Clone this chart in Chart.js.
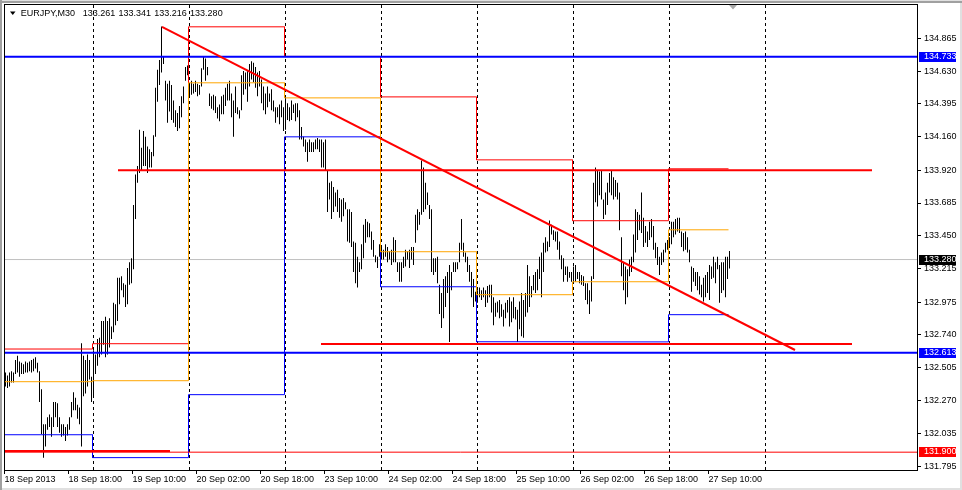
<!DOCTYPE html>
<html>
<head>
<meta charset="utf-8">
<title>EURJPY,M30</title>
<script src="https://cdn.jsdelivr.net/npm/chart.js@4.4.1/dist/chart.umd.min.js"></script>
<style>
  html, body { margin: 0; padding: 0; background: #fff; }
  canvas { display: block; }
</style>
</head>
<body>
<canvas id="chart" width="962" height="490"></canvas>
<script>
(function (global) {
  'use strict';

  // ---- data: one bar per 30 minutes, index 0 = 18 Sep 02:00 ----
  var BAR_HIGH = [
    // 18 Sep
    132.47, 132.45, 132.47, 132.48, 132.47, 132.56, 132.59, 132.55, 132.54, 132.53,
    132.55, 132.54, 132.55, 132.56, 132.57, 132.58, 132.54, 132.48, 132.35, 132.10,
    132.10, 132.15, 132.17, 132.15, 132.26, 132.26, 132.25, 132.15, 132.10, 132.10,
    132.08, 132.10, 132.15, 132.26, 132.33, 132.29, 132.24, 132.22, 132.68, 132.59,
    132.56, 132.60, 132.56, 132.44,
    // 19 Sep
    132.63, 132.60, 132.71, 132.72, 132.84, 132.84,
    132.87, 132.84, 132.86, 132.80, 132.97, 132.96, 133.15, 133.15, 133.16, 133.11,
    133.10, 133.22, 133.26, 133.29, 133.67, 133.89, 133.95, 134.21, 134.08, 134.20,
    134.16, 134.09, 134.07, 134.05, 134.17, 134.51, 134.64, 134.71, 134.95, 134.73,
    134.56, 134.54, 134.56, 134.53, 134.42, 134.35, 134.33, 134.38, 134.45, 134.52,
    134.66, 134.67,
    // 20 Sep
    134.54, 134.56, 134.54, 134.56, 134.54, 134.53, 134.65, 134.73,
    134.72, 134.66, 134.47, 134.45, 134.46, 134.45, 134.37, 134.39, 134.45, 134.46,
    134.51, 134.54, 134.56, 134.47, 134.42, 134.52, 134.37, 134.35, 134.60, 134.63,
    134.62, 134.63, 134.68, 134.70, 134.69, 134.66, 134.62, 134.63, 134.57, 134.52,
    134.47, 134.52, 134.47, 134.50, 134.42, 134.37, 134.37, 134.39, 134.42, 134.37,
    // 23 Sep
    134.44, 134.40, 134.37, 134.42, 134.39, 134.40, 134.40, 134.35, 134.23, 134.16,
    134.14, 134.12, 134.14, 134.12, 134.12, 134.14, 134.15, 134.14, 134.14, 134.12,
    134.14, 133.92, 133.83, 133.84, 133.80, 133.76, 133.78, 133.72, 133.71, 133.72,
    133.69, 133.64, 133.64, 133.62, 133.41, 133.40, 133.30, 133.26, 133.39, 133.53,
    133.57, 133.55, 133.54, 133.48, 133.42, 133.31, 133.30, 133.39,
    // 24 Sep
    133.37, 133.35, 133.39, 133.37, 133.34, 133.35, 133.44, 133.42, 133.26, 133.26, 133.26, 133.30,
    133.35, 133.34, 133.35, 133.37, 133.37, 133.60, 133.64, 133.62, 133.99, 133.94,
    133.83, 133.76, 133.67, 133.64, 133.29, 133.29, 133.30, 133.10, 133.04, 133.14,
    133.16, 133.19, 133.24, 133.19, 133.26, 133.26, 133.26, 133.40, 133.57, 133.40,
    133.33, 133.30, 133.24, 133.19, 133.14, 133.05,
    // 25 Sep
    133.06, 133.08, 133.06, 133.08,
    133.06, 133.09, 133.10, 133.10, 133.01, 132.97, 132.98, 132.99, 132.96, 132.92,
    132.97, 132.99, 133.01, 132.98, 133.01, 132.94, 132.92, 132.98, 133.04, 132.99,
    133.04, 133.24, 133.16, 133.09, 133.17, 133.19, 133.21, 133.30, 133.33, 133.40,
    133.44, 133.41, 133.56, 133.53, 133.49, 133.48, 133.48, 133.41, 133.31, 133.29,
    133.23, 133.23, 133.19, 133.19,
    // 26 Sep
    133.23, 133.24, 133.19, 133.19, 133.17, 133.16,
    133.11, 133.11, 133.06, 133.16, 133.83, 133.94, 133.92, 133.91, 133.92, 133.71,
    133.76, 133.83, 133.90, 133.92, 133.87, 133.85, 133.83, 133.76, 133.44, 133.26,
    133.23, 133.21, 133.28, 133.30, 133.46, 133.64, 133.62, 133.60, 133.76, 133.58,
    133.52, 133.48, 133.55, 133.57, 133.52, 133.40, 133.37, 133.30, 133.33, 133.35,
    133.40, 133.42,
    // 27 Sep
    133.44, 133.55, 133.55, 133.57, 133.58, 133.58, 133.48, 133.47,
    133.48, 133.44, 133.35, 133.23, 133.22, 133.19, 133.19, 133.16, 133.10, 133.15,
    133.17, 133.19, 133.24, 133.23, 133.30, 133.26, 133.30, 133.24, 133.26, 133.26,
    133.30, 133.30, 133.341
  ];

  var BAR_LOW = [
    // 18 Sep
    132.37, 132.36, 132.37, 132.40, 132.40, 132.46, 132.47, 132.44, 132.46, 132.46,
    132.47, 132.47, 132.48, 132.47, 132.48, 132.50, 132.47, 132.26, 132.03, 131.86,
    131.94, 132.06, 132.08, 132.01, 132.08, 132.15, 132.08, 132.04, 132.01, 132.02,
    131.98, 132.02, 132.06, 132.15, 132.20, 132.20, 132.14, 132.10, 131.94, 132.30,
    132.32, 132.37, 132.42, 132.26,
    // 19 Sep
    132.31, 132.46, 132.52, 132.58, 132.60, 132.67,
    132.58, 132.60, 132.65, 132.71, 132.76, 132.81, 132.84, 132.96, 133.06, 133.01,
    132.94, 132.96, 133.10, 133.11, 133.21, 133.57, 133.83, 133.90, 133.92, 133.95,
    133.95, 133.90, 133.94, 133.94, 134.02, 134.16, 134.41, 134.53, 134.62, 134.68,
    134.42, 134.26, 134.34, 134.28, 134.26, 134.23, 134.20, 134.22, 134.30, 134.40,
    134.56, 134.60,
    // 20 Sep
    134.45, 134.46, 134.47, 134.48, 134.45, 134.46, 134.52, 134.64,
    134.56, 134.60, 134.38, 134.36, 134.35, 134.33, 134.29, 134.27, 134.32, 134.32,
    134.38, 134.42, 134.42, 134.30, 134.16, 134.33, 134.32, 134.29, 134.35, 134.46,
    134.50, 134.41, 134.52, 134.57, 134.55, 134.51, 134.45, 134.52, 134.40, 134.35,
    134.32, 134.37, 134.41, 134.35, 134.34, 134.26, 134.30, 134.25, 134.30, 134.20,
    // 23 Sep
    134.21, 134.28, 134.27, 134.28, 134.33, 134.27, 134.30, 134.14, 134.14, 134.09,
    134.05, 133.98, 134.05, 134.05, 134.05, 134.07, 134.07, 134.05, 133.94, 133.94,
    133.92, 133.62, 133.71, 133.57, 133.62, 133.66, 133.62, 133.58, 133.55, 133.59,
    133.64, 133.41, 133.40, 133.37, 133.19, 133.11, 133.08, 133.19, 133.21, 133.29,
    133.40, 133.44, 133.44, 133.35, 133.30, 133.26, 133.22, 133.30,
    // 24 Sep
    133.28, 133.28, 133.30, 133.26, 133.28, 133.24, 133.26, 133.26, 133.19, 133.12, 133.12, 133.22,
    133.23, 133.28, 133.22, 133.28, 133.24, 133.40, 133.49, 133.53, 133.60, 133.62,
    133.64, 133.67, 133.57, 133.19, 133.17, 133.19, 133.11, 132.89, 132.79, 132.86,
    132.94, 133.04, 132.69, 133.06, 133.19, 133.19, 133.21, 133.26, 133.35, 133.30,
    133.26, 133.19, 133.12, 133.01, 132.94, 132.98,
    // 25 Sep
    132.97, 133.01, 132.99, 133.01,
    132.94, 132.97, 133.01, 132.90, 132.81, 132.87, 132.90, 132.86, 132.87, 132.80,
    132.86, 132.90, 132.80, 132.83, 132.86, 132.85, 132.69, 132.78, 132.73, 132.72,
    132.87, 132.90, 132.94, 133.01, 133.06, 133.04, 133.06, 133.14, 133.01, 133.19,
    133.33, 133.34, 133.37, 133.46, 133.42, 133.41, 133.35, 133.28, 133.21, 133.12,
    133.17, 133.12, 133.15, 133.12,
    // 26 Sep
    133.11, 133.12, 133.14, 133.11, 133.10, 133.09,
    132.99, 132.96, 132.89, 132.98, 133.14, 133.69, 133.66, 133.74, 133.71, 133.57,
    133.60, 133.67, 133.76, 133.74, 133.71, 133.73, 133.71, 133.49, 133.16, 133.06,
    132.96, 133.01, 133.16, 133.19, 133.26, 133.33, 133.42, 133.49, 133.47, 133.37,
    133.40, 133.37, 133.42, 133.44, 133.35, 133.29, 133.24, 133.17, 133.24, 133.26,
    133.33, 133.35,
    // 27 Sep
    133.37, 133.39, 133.44, 133.46, 133.48, 133.47, 133.37, 133.34,
    133.35, 133.33, 133.26, 133.05, 133.12, 133.09, 133.06, 133.03, 133.01, 132.98,
    133.01, 133.04, 132.99, 133.14, 133.15, 133.11, 133.21, 132.97, 133.04, 133.06,
    133.01, 133.14, 133.216
  ];

  var SYMBOL = 'EURJPY,M30';
  var LAST_OHLC = [133.261, 133.341, 133.216, 133.280];

  // daily levels drawn by the indicator, one value per session
  var DAY_STARTS = [-4, 44, 92, 140, 188, 236, 284, 332];
  var PREV_HIGH = [132.639, 132.677, 134.947, 134.735, 134.445, 133.994, 133.558, 133.930];
  var PREV_LOW = [132.025, 131.861, 132.312, 134.159, 133.085, 132.691, 132.690, 132.885];
  var PREV_CLOSE = [132.405, 132.412, 134.546, 134.438, 133.336, 133.028, 133.121, 133.493];

  // period separators (midnight bars, last one is in the empty area)
  var SEPARATORS = [44, 92, 140, 188, 236, 284, 332, 380];

  // hand drawn objects
  var BLUE_LEVELS = [134.733, 132.613];
  var RED_LEVELS = [133.920, 132.675, 131.909];
  var RED_SPANS = [[56.25, 433.25], [157.75, 423.25], [-0.75, 82.25]];
  var ALERT_LEVEL = 131.900;
  var TREND_START = [78.25, 134.946];
  var TREND_END = [394.75, 132.632];

  var TIME_TICKS = [0, 32, 64, 96, 128, 160, 192, 224, 256, 288, 320, 352];
  var TIME_LABELS = ['18 Sep 2013', '18 Sep 18:00', '19 Sep 10:00', '20 Sep 02:00', '20 Sep 18:00',
    '23 Sep 10:00', '24 Sep 02:00', '24 Sep 18:00', '25 Sep 10:00', '26 Sep 02:00',
    '26 Sep 18:00', '27 Sep 10:00'];
  var PRICE_TICKS = [134.865, 134.630, 134.395, 134.160, 133.920, 133.685, 133.450,
    133.215, 132.975, 132.740, 132.505, 132.270, 132.035, 131.795];
  var PRICE_MARKERS = [134.733, 133.280, 132.613, 131.900];

  // ---- layout / style ----
  var X_MIN = -0.75, X_MAX = 455.75;
  var Y_MIN = 131.7724, Y_MAX = 135.1105;
  var FONT = '"Liberation Sans", Arial, sans-serif';
  var MARKER_COLORS = ['#0000ff', '#000000', '#0000ff', '#ff0000'];

  Chart.defaults.font.family = FONT;
  Chart.defaults.font.size = 9;
  Chart.defaults.color = '#000';

  var LAST = BAR_HIGH.length - 1;

  function stepLine(levels) {
    var pts = [];
    levels.forEach(function (lvl, k) {
      var from = DAY_STARTS[k] - 0.5;
      var to = k + 1 < DAY_STARTS.length ? DAY_STARTS[k + 1] - 0.5 : LAST - 0.5;
      pts.push({ x: from, y: lvl }, { x: to, y: lvl });
    });
    return pts;
  }

  function segment(x0, x1, y0, y1, color, width, order) {
    return {
      type: 'line',
      data: [{ x: x0, y: y0 }, { x: x1, y: y1 }],
      borderColor: color, borderWidth: width,
      pointRadius: 0, tension: 0, order: order
    };
  }

  function lineSet(points, color, order) {
    return {
      type: 'line', data: points, borderColor: color, borderWidth: 1,
      pointRadius: 0, tension: 0, order: order
    };
  }

  var datasets = [];
  datasets.push(segment(TREND_START[0], TREND_END[0], TREND_START[1], TREND_END[1], '#ff0000', 2, 1));
  BLUE_LEVELS.forEach(function (p) { datasets.push(segment(X_MIN, X_MAX, p, p, '#0000ff', 2, 2)); });
  RED_LEVELS.forEach(function (p, k) { datasets.push(segment(RED_SPANS[k][0], RED_SPANS[k][1], p, p, '#ff0000', 2, 2)); });
  datasets.push(segment(X_MIN, X_MAX, ALERT_LEVEL, ALERT_LEVEL, '#ff0000', 1, 2));
  datasets.push(lineSet(stepLine(PREV_CLOSE), '#ffa500', 3));
  datasets.push(lineSet(stepLine(PREV_LOW), '#0000ff', 3));
  datasets.push(lineSet(stepLine(PREV_HIGH), '#ff0000', 3));
  datasets.push({
    type: 'bar',
    data: BAR_HIGH.map(function (h, k) { return { x: k, y: [BAR_LOW[k], h] }; }),
    backgroundColor: '#000', borderWidth: 0, barThickness: 1, inflateAmount: 0, order: 5
  });
  datasets.push(segment(X_MIN, X_MAX, LAST_OHLC[3], LAST_OHLC[3], '#c0c0c0', 1, 6));

  var separatorsPlugin = {
    id: 'separators',
    beforeDatasetsDraw: function (chart) {
      var ctx = chart.ctx, area = chart.chartArea, xs = chart.scales.x;
      ctx.save();
      ctx.strokeStyle = '#000';
      ctx.lineWidth = 1;
      ctx.setLineDash([3, 3]);
      SEPARATORS.forEach(function (i) {
        var px = Math.floor(xs.getPixelForValue(i)) + 0.5;
        ctx.beginPath();
        ctx.moveTo(px, area.top + 1);
        ctx.lineTo(px, area.bottom);
        ctx.stroke();
      });
      ctx.restore();
    }
  };

  var chromePlugin = {
    id: 'chrome',
    afterDraw: function (chart) {
      var ctx = chart.ctx, area = chart.chartArea, ys = chart.scales.y;
      var W = chart.width, H = chart.height;
      ctx.save();
      // window edges
      ctx.fillStyle = '#e0e0e0';
      ctx.fillRect(0, 0, W, 1);
      ctx.fillRect(0, H - 2, W, 2);
      ctx.fillRect(W - 2, 0, 2, H);
      ctx.fillStyle = '#a0a0a0';
      ctx.fillRect(0, 1, W, 2);
      ctx.fillRect(0, 0, 2, H);

      // plot frame
      ctx.strokeStyle = '#000';
      ctx.lineWidth = 1;
      ctx.strokeRect(area.left + 0.5, area.top + 0.5, area.right - area.left, area.bottom - area.top);

      // price markers on the right scale
      ctx.font = '9px ' + FONT;
      ctx.textBaseline = 'middle';
      ctx.textAlign = 'left';
      PRICE_MARKERS.forEach(function (p, k) {
        var py = Math.round(ys.getPixelForValue(p));
        ctx.fillStyle = MARKER_COLORS[k];
        ctx.fillRect(area.right + 2, py - 5, 37, 10);
        ctx.fillStyle = '#fff';
        ctx.fillText(p.toFixed(3), area.right + 7, py);
      });

      // header: symbol and last bar OHLC
      ctx.fillStyle = '#000';
      ctx.beginPath();
      ctx.moveTo(10, 11.5); ctx.lineTo(15.5, 11.5); ctx.lineTo(12.75, 15);
      ctx.closePath();
      ctx.fill();
      ctx.textBaseline = 'alphabetic';
      ctx.fillText(SYMBOL, 20.7, 16);
      LAST_OHLC.forEach(function (v, k) { ctx.fillText(v.toFixed(3), 82.7 + k * 35.8, 16); });

      // chart shift marker
      ctx.fillStyle = '#a8a8a8';
      ctx.beginPath();
      ctx.moveTo(729, 5); ctx.lineTo(737, 5); ctx.lineTo(733, 9.5);
      ctx.closePath();
      ctx.fill();
      ctx.restore();
    }
  };

  new Chart(document.getElementById('chart'), {
    type: 'bar',
    data: { datasets: datasets },
    plugins: [separatorsPlugin, chromePlugin],
    options: {
      responsive: false,
      animation: false,
      events: [],
      layout: { padding: { left: 4, top: 4, right: 0, bottom: 0 } },
      plugins: { legend: { display: false }, tooltip: { enabled: false } },
      scales: {
        x: {
          type: 'linear', position: 'bottom', min: X_MIN, max: X_MAX, offset: false,
          grid: { drawOnChartArea: false, drawTicks: true, tickLength: 4, color: '#000', offset: false },
          border: { display: false },
          ticks: {
            align: 'start', maxRotation: 0, autoSkip: false, padding: 0, color: '#000',
            callback: function (v, idx) { return TIME_LABELS[idx]; }
          },
          afterBuildTicks: function (scale) {
            scale.ticks = TIME_TICKS.map(function (t) { return { value: t - 0.5 }; });
          },
          afterFit: function (scale) {
            scale.height = 20; scale.paddingLeft = 0; scale.paddingRight = 0;
          }
        },
        y: {
          type: 'linear', position: 'right', min: Y_MIN, max: Y_MAX,
          grid: { drawOnChartArea: false, drawTicks: true, tickLength: 4, color: '#000' },
          border: { display: false },
          ticks: {
            autoSkip: false, padding: 3, color: '#000',
            callback: function (v) { return v.toFixed(3); }
          },
          afterBuildTicks: function (scale) {
            scale.ticks = PRICE_TICKS.map(function (p) { return { value: p }; });
          },
          afterFit: function (scale) {
            scale.width = 45; scale.paddingTop = 0; scale.paddingBottom = 0;
          }
        }
      }
    }
  });
})(window);
</script>
</body>
</html>
